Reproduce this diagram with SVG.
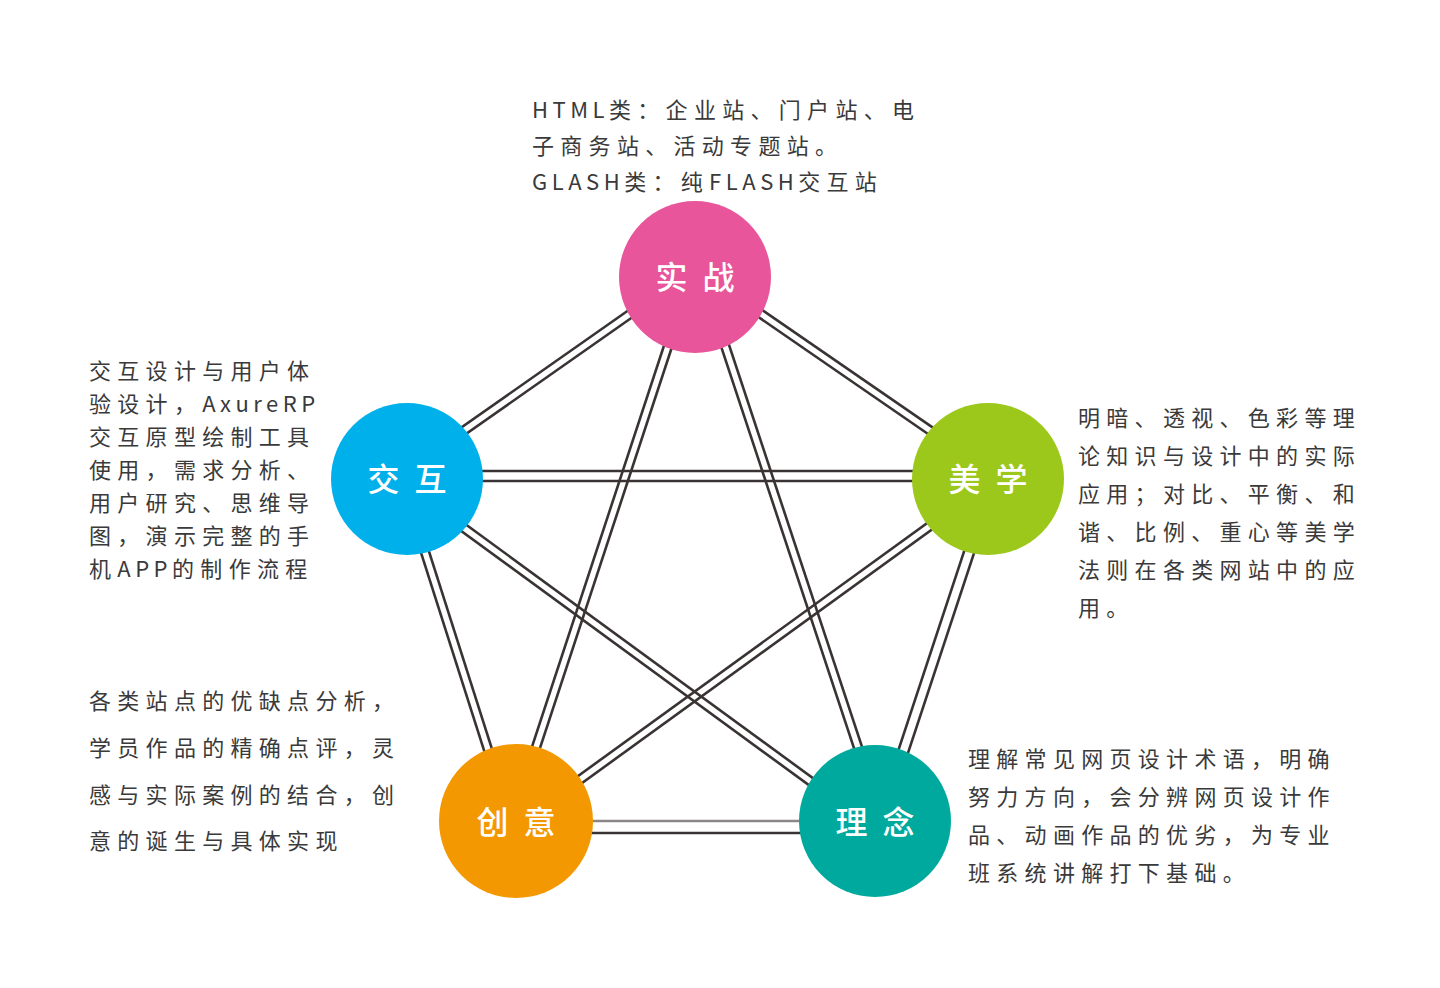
<svg xmlns="http://www.w3.org/2000/svg" width="1440" height="988" viewBox="0 0 1440 988">
<style>
.ln{stroke:#3a3333;stroke-width:2.6;fill:none}
.lg{stroke:#8c8686;stroke-width:2.6;fill:none}
.lbl{font-family:"Noto Sans CJK SC","Noto Sans",sans-serif;font-size:32px;font-weight:500;fill:#ffffff;text-anchor:middle;letter-spacing:4px}
.desc{font-family:"Noto Sans CJK SC","Noto Sans",sans-serif;font-size:22px;font-weight:400;fill:#3a3a3a;letter-spacing:6.3px}
.lat{letter-spacing:4.5px}
</style>
<rect width="1440" height="988" fill="#ffffff"/>
<g id="connectors">
<line class="ln" x1="693.3" y1="274.5" x2="405.3" y2="476.5"/>
<line class="ln" x1="688.7" y1="268.0" x2="400.7" y2="470.0"/>
<line class="ln" x1="696.7" y1="274.5" x2="989.7" y2="476.5"/>
<line class="ln" x1="701.2" y1="267.9" x2="994.2" y2="469.9"/>
<line class="ln" x1="407" y1="471" x2="988" y2="471"/>
<line class="ln" x1="407" y1="481" x2="988" y2="481"/>
<line class="lg" x1="516" y1="821" x2="875" y2="821"/>
<line class="ln" x1="516" y1="833" x2="875" y2="833"/>
<line class="ln" x1="988" y1="479" x2="875" y2="821"/>
<line class="ln" x1="997.5" y1="482.1" x2="884.5" y2="824.1"/>
<line class="ln" x1="406.0" y1="479.3" x2="515.0" y2="821.3"/>
<line class="ln" x1="398.4" y1="481.7" x2="507.4" y2="823.7"/>
<line class="ln" x1="695" y1="277" x2="516" y2="821"/>
<line class="ln" x1="687.4" y1="274.5" x2="508.4" y2="818.5"/>
<line class="ln" x1="697.8" y1="276.1" x2="877.8" y2="820.1"/>
<line class="ln" x1="705.4" y1="273.5" x2="885.4" y2="817.5"/>
<line class="ln" x1="405.8" y1="480.6" x2="873.8" y2="822.6"/>
<line class="ln" x1="401.1" y1="487.1" x2="869.1" y2="829.1"/>
<line class="ln" x1="988" y1="479" x2="516" y2="821"/>
<line class="ln" x1="992.7" y1="485.5" x2="520.7" y2="827.5"/>
</g>
<g id="node-shizhan">
<circle cx="695" cy="277" r="76" fill="#e8559a"/>
<text class="lbl" x="697" y="289">实 战</text>
</g>
<g id="node-jiaohu">
<circle cx="407" cy="479" r="76" fill="#00b0ea"/>
<text class="lbl" x="409" y="491">交 互</text>
</g>
<g id="node-meixue">
<circle cx="988" cy="479" r="76" fill="#9cc71b"/>
<text class="lbl" x="990" y="491">美 学</text>
</g>
<g id="node-chuangyi">
<circle cx="516" cy="821" r="77" fill="#f39800"/>
<text class="lbl" x="518" y="834">创 意</text>
</g>
<g id="node-linian">
<circle cx="875" cy="821" r="76" fill="#00a99d"/>
<text class="lbl" x="877" y="834">理 念</text>
</g>
<g id="desc-shizhan">
<text class="desc" x="532" y="118"><tspan class="lat">HTML</tspan>类：企业站、门户站、电</text>
<text class="desc" x="532" y="154">子商务站、活动专题站。</text>
<text class="desc" x="532" y="190"><tspan class="lat">GLASH</tspan>类：纯<tspan class="lat">FLASH</tspan>交互站</text>
</g>
<g id="desc-jiaohu">
<text class="desc" x="89" y="379">交互设计与用户体</text>
<text class="desc" x="89" y="412">验设计，<tspan class="lat">AxureRP</tspan></text>
<text class="desc" x="89" y="445">交互原型绘制工具</text>
<text class="desc" x="89" y="478">使用，需求分析、</text>
<text class="desc" x="89" y="511">用户研究、思维导</text>
<text class="desc" x="89" y="544">图，演示完整的手</text>
<text class="desc" x="89" y="577">机<tspan class="lat">APP</tspan>的制作流程</text>
</g>
<g id="desc-meixue">
<text class="desc" x="1078" y="426">明暗、透视、色彩等理</text>
<text class="desc" x="1078" y="464">论知识与设计中的实际</text>
<text class="desc" x="1078" y="502">应用；对比、平衡、和</text>
<text class="desc" x="1078" y="540">谐、比例、重心等美学</text>
<text class="desc" x="1078" y="578">法则在各类网站中的应</text>
<text class="desc" x="1078" y="616">用。</text>
</g>
<g id="desc-chuangyi">
<text class="desc" x="89" y="709">各类站点的优缺点分析，</text>
<text class="desc" x="89" y="756">学员作品的精确点评，灵</text>
<text class="desc" x="89" y="803">感与实际案例的结合，创</text>
<text class="desc" x="89" y="849">意的诞生与具体实现</text>
</g>
<g id="desc-linian">
<text class="desc" x="968" y="767">理解常见网页设计术语，明确</text>
<text class="desc" x="968" y="805">努力方向，会分辨网页设计作</text>
<text class="desc" x="968" y="843">品、动画作品的优劣，为专业</text>
<text class="desc" x="968" y="881">班系统讲解打下基础。</text>
</g>
</svg>
